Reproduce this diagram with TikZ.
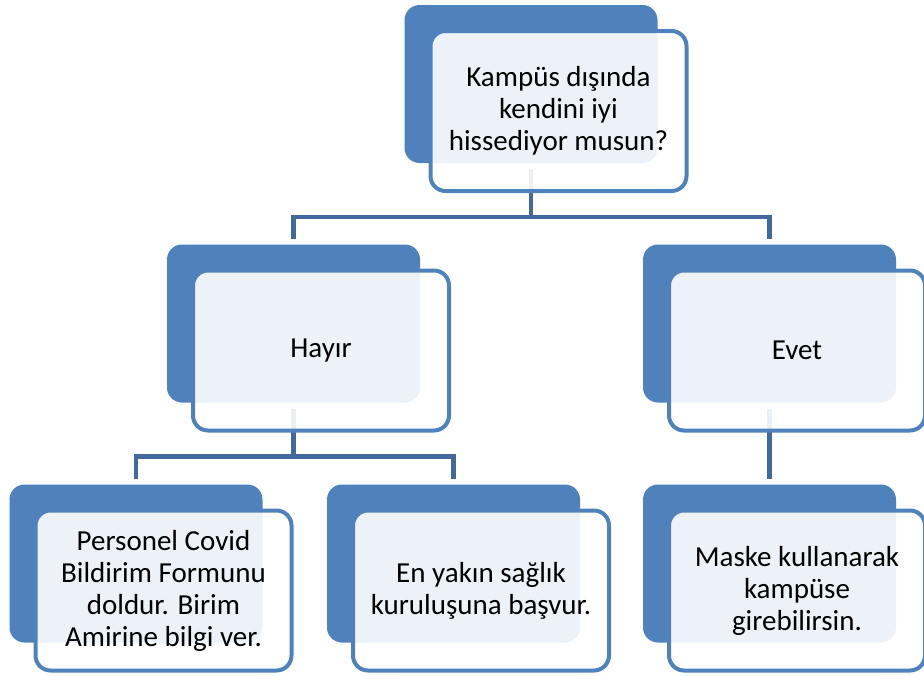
\documentclass[tikz,border=0pt]{standalone}
\usepackage{fontspec}
\setmainfont{Carlito}
\usetikzlibrary{positioning}
\definecolor{accblue}{HTML}{4F81BD}
\definecolor{lineblue}{HTML}{41699F}

\begin{document}
\begin{tikzpicture}[x=1pt,y=-1pt,
		back/.style={fill=accblue,rounded corners=15pt,minimum width=253pt,minimum height=158pt,inner sep=0pt,outer sep=0pt},
		front/.style={draw=accblue,line width=4pt,fill=white,fill opacity=0.9,text opacity=1,rounded corners=15pt,
			minimum width=256pt,minimum height=160pt,inner sep=0pt,outer sep=0pt,align=center,font=\fontsize{29}{32}\selectfont},
		link/.style={draw=lineblue,line width=4.5pt,shorten <=6pt,shorten >=6pt}]
			\useasboundingbox (0,0) rectangle (924,675);
			% back boxes
			\foreach \n/\x/\y in {q0/531/84,no0/293.5/323.5,yes0/769.5/323.5,form0/136/563.5,clinic0/453.5/563.5,mask0/769.5/563.5}
				\node[back] (\n) at (\x,\y) {};
			% connectors
			\draw[link] (q0.south) -- ++(0,54) -| (no0.north);
			\draw[link] (q0.south) -- ++(0,54) -| (yes0.north);
			\draw[link] (no0.south) -- ++(0,54) -| (form0.north);
			\draw[link] (no0.south) -- ++(0,54) -| (clinic0.north);
			\draw[link] (yes0.south) -- (mask0.north);
			% front boxes
			\node[front,below right=26pt and 26pt of q0.north west] (q) {Kampüs dışında\\kendini iyi\\hissediyor musun?};
			\node[front,below right=26pt and 26pt of no0.north west] (no) {Hayır};
			\node[front,below right=26pt and 26pt of yes0.north west] (yes) {Evet};
			\node[front,below right=26pt and 26pt of form0.north west] (form) {Personel Covid\\Bildirim Formunu\\doldur. Birim\\Amirine bilgi ver.};
			\node[front,below right=26pt and 26pt of clinic0.north west] (clinic) {En yakın sağlık\\kuruluşuna başvur.};
			\node[front,below right=26pt and 26pt of mask0.north west] (mask) {Maske kullanarak\\kampüse\\girebilirsin.};
		\end{tikzpicture}
\end{document}
